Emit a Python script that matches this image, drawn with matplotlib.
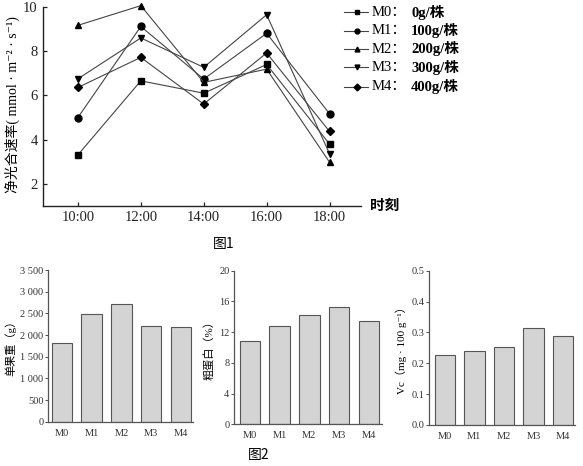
import numpy as np
import matplotlib.pyplot as plt
from matplotlib.lines import Line2D

# fonts: serif for latin, CJK fallback
SERIF = ['Liberation Serif', 'DejaVu Serif', 'Noto Sans CJK SC']
CJK = ['Noto Sans CJK SC', 'DejaVu Sans']

# fig 1 data
times = ['10:00', '12:00', '14:00', '16:00', '18:00']
groups = ['M0', 'M1', 'M2', 'M3', 'M4']
doses = ['0g/株', '100g/株', '200g/株', '300g/株', '400g/株']
markers = ['s', 'o', '^', 'v', 'D']

m0 = [3.31, 6.66, 6.10, 7.40, 3.80]
m1 = [5.00, 9.12, 6.74, 8.81, 5.17]
m2 = [9.17, 10.06, 6.59, 7.19, 2.98]
m3 = [6.75, 8.60, 7.27, 9.65, 3.36]
m4 = [6.36, 7.72, 5.61, 7.92, 4.37]

# fig 2 data
fruit_weight = [1823, 2477, 2708, 2215, 2177]
protein = [10.8, 12.76, 14.27, 15.23, 13.45]
vc = [0.228, 0.239, 0.253, 0.313, 0.287]

weight_ticks = [0, 500, 1000, 1500, 2000, 2500, 3000, 3500]
weight_labels = ['0', '500', '1 000', '1 500', '2 000', '2 500', '3 000', '3 500']
protein_ticks = [0, 4, 8, 12, 16, 20]
vc_ticks = [0.0, 0.1, 0.2, 0.3, 0.4, 0.5]

fig = plt.figure(figsize=(5.83, 4.66), dpi=100)

#--- figure 1: line chart
ax = fig.add_axes([0.0732, 0.558, 0.546, 0.427])
x = np.arange(len(times))
for vals, mk in zip([m0, m1, m2, m3, m4], markers):
    ms = 4.5 if mk == 'D' else 5
    ax.plot(x, vals, color='#444444', lw=0.8, marker=mk, ms=ms,
            mfc='black', mec='black', clip_on=False)

ax.set_xlim(-0.56, 4.5)
ax.set_ylim(1, 10)
ax.set_yticks([2, 4, 6, 8, 10])
ax.set_xticks(x)
ax.set_xticklabels(times, family=SERIF, fontsize=10.5)
for lab in ax.get_yticklabels():
    lab.set_family(SERIF)
    lab.set_fontsize(10.5)
ax.tick_params(direction='in', length=3, width=0.9, colors='#222222')
ax.spines['top'].set_visible(False)
ax.spines['right'].set_visible(False)
for s in ['left', 'bottom']:
    ax.spines[s].set_linewidth(1.0)
    ax.spines[s].set_color('#222222')

fig.text(12/583, 1-105/466, '净光合速率( mmol · m⁻² · s⁻¹)', rotation=90,
         ha='center', va='center', family=SERIF, fontsize=10)
fig.text(385/583, 1-205/466, '时刻', ha='center', va='center',
         family=CJK, fontsize=10.5, fontweight='bold')

# legend drawn by hand
row_y = [12.3, 30.7, 49, 67.3, 86.7]
for g, d, mk, yy in zip(groups, doses, markers, row_y):
    yf = 1 - yy/466
    fig.add_artist(Line2D([344/583, 368/583], [yf, yf], color='#444444', lw=0.8,
                          transform=fig.transFigure))
    fig.add_artist(Line2D([357/583], [yf], marker=mk, ms=3.5, color='black',
                          transform=fig.transFigure))
    fig.text(372/583, yf, g + '：', ha='left', va='center', family=SERIF, fontsize=10.5)
    fig.text(411/583, yf, d, ha='left', va='center', family=SERIF, fontsize=10.5,
             fontweight='bold')

fig.text(224/583, 1-244/466, '图1', ha='center', va='center', family=CJK, fontsize=10)

#--- figure 2: three bar charts
bar_axes = [
    ([0.0829, 0.0951, 0.2476, 0.3255], fruit_weight, (0, 3500), weight_ticks,
     weight_labels, '单果重（g）', (-0.46, 4.4)),
    ([0.4019, 0.0895, 0.2528, 0.3295], protein, (0, 20), protein_ticks,
     [str(t) for t in protein_ticks], '粗蛋白（%）', (-0.52, 4.43)),
    ([0.7364, 0.0880, 0.2499, 0.3310], vc, (0, 0.5), vc_ticks,
     ['%.1f' % t for t in vc_ticks], 'Vc（mg · 100 g⁻¹）', (-0.52, 4.4)),
]
for pos, vals, ylim, ticks, labels, ylab, xlim in bar_axes:
    bx = fig.add_axes(pos)
    bx.bar(np.arange(len(groups)), vals, width=0.69, color='#d4d4d4',
           edgecolor='#555555', linewidth=0.8)
    bx.set_ylim(*ylim)
    bx.set_xlim(*xlim)
    bx.set_yticks(ticks)
    bx.set_yticklabels(labels, family=SERIF, fontsize=7.5)
    bx.set_xticks(np.arange(len(groups)))
    bx.set_xticklabels(groups, family=SERIF, fontsize=7.5)
    bx.tick_params(axis='y', direction='out', length=2, width=0.6, pad=1.5, colors='#333333')
    bx.tick_params(axis='x', length=0, pad=5, colors='#333333')
    bx.set_ylabel(ylab, family=SERIF, fontsize=8, labelpad=3)
    bx.spines['top'].set_visible(False)
    bx.spines['right'].set_visible(False)
    for s in ['left', 'bottom']:
        bx.spines[s].set_linewidth(0.9)
        bx.spines[s].set_color('#555555')

fig.text(259/583, 1-455/466, '图2', ha='center', va='center', family=CJK, fontsize=10)

fig.savefig('out.png', dpi=100)
